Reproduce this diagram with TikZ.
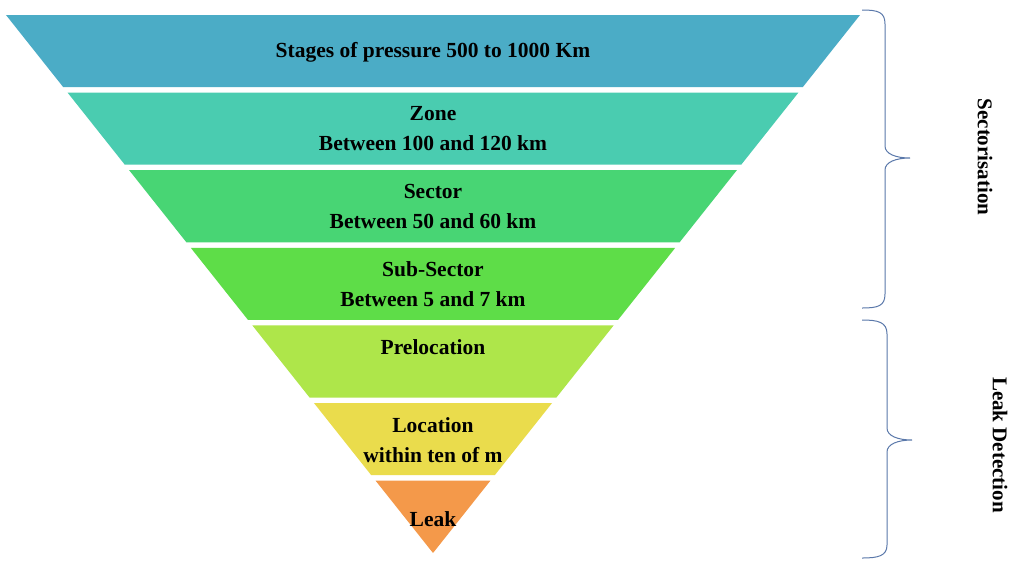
\documentclass[tikz,border=0pt]{standalone}
\usepackage{fontspec}
\setmainfont{Liberation Serif}
\begin{document}
\begin{tikzpicture}[x=1pt,y=-1pt,
  lbl/.style={inner sep=0pt,align=center,font=\fontsize{21.5}{30}\selectfont\bfseries,text=black},
  sidelbl/.style={inner sep=0pt,rotate=-90,font=\fontsize{21}{24}\selectfont\bfseries,text=black},
  bracecol/.style={draw=braceblue,line width=1pt}]
\definecolor{c1}{RGB}{75,172,198}
\definecolor{c2}{RGB}{74,204,176}
\definecolor{c3}{RGB}{72,213,116}
\definecolor{c4}{RGB}{94,221,72}
\definecolor{c5}{RGB}{174,230,74}
\definecolor{c6}{RGB}{234,220,76}
\definecolor{c7}{RGB}{244,153,74}
\definecolor{braceblue}{RGB}{90,120,170}
\useasboundingbox (0,0) rectangle (1011,563);
\fill[white] (0,0) rectangle (1011,563);
\def\k{0.7937}
\foreach \i/\col in {0/c1,1/c2,2/c3,3/c4,4/c5,5/c6,6/c7}{
  \pgfmathsetmacro{\yt}{15+\i*77.6}
  \pgfmathsetmacro{\yb}{min(\yt+72.1,553)}
  \fill[\col] ({433-(553-\yt)*\k},\yt) -- ({433+(553-\yt)*\k},\yt)
     -- ({433+(553-\yb)*\k},\yb) -- ({433-(553-\yb)*\k},\yb) -- cycle;
}
\node[lbl] (t1) at (433,52) {Stages of pressure 500 to 1000 Km};
\node[lbl] (t2) at (433,129) {Zone\\Between 100 and 120 km};
\node[lbl] (t3) at (433,206) {Sector\\Between 50 and 60 km};
\node[lbl] (t4) at (433,284) {Sub-Sector\\Between 5 and 7 km};
\node[lbl] (t5) at (433,347) {Prelocation};
\node[lbl] (t6) at (433,440) {Location\\within ten of m};
\node[lbl] (t7) at (433,519) {Leak};
% braces
\draw[bracecol] (862,10) .. controls (878,10) and (885,12) .. (885,24)
  -- (885,146) .. controls (885,154) and (896,158) .. (910,158)
  .. controls (896,158) and (885,162) .. (885,170)
  -- (885,294) .. controls (885,306) and (878,308) .. (862,308);
\draw[bracecol] (862,320) .. controls (878,320) and (887,322) .. (887,334)
  -- (887,428) .. controls (887,436) and (898,440) .. (912,440)
  .. controls (898,440) and (887,444) .. (887,452)
  -- (887,545) .. controls (887,556) and (878,558) .. (862,558);
\node[sidelbl] (s1) at (985,157) {Sectorisation};
\node[sidelbl] (s2) at (1000,445) {Leak Detection};
\end{tikzpicture}
\end{document}
